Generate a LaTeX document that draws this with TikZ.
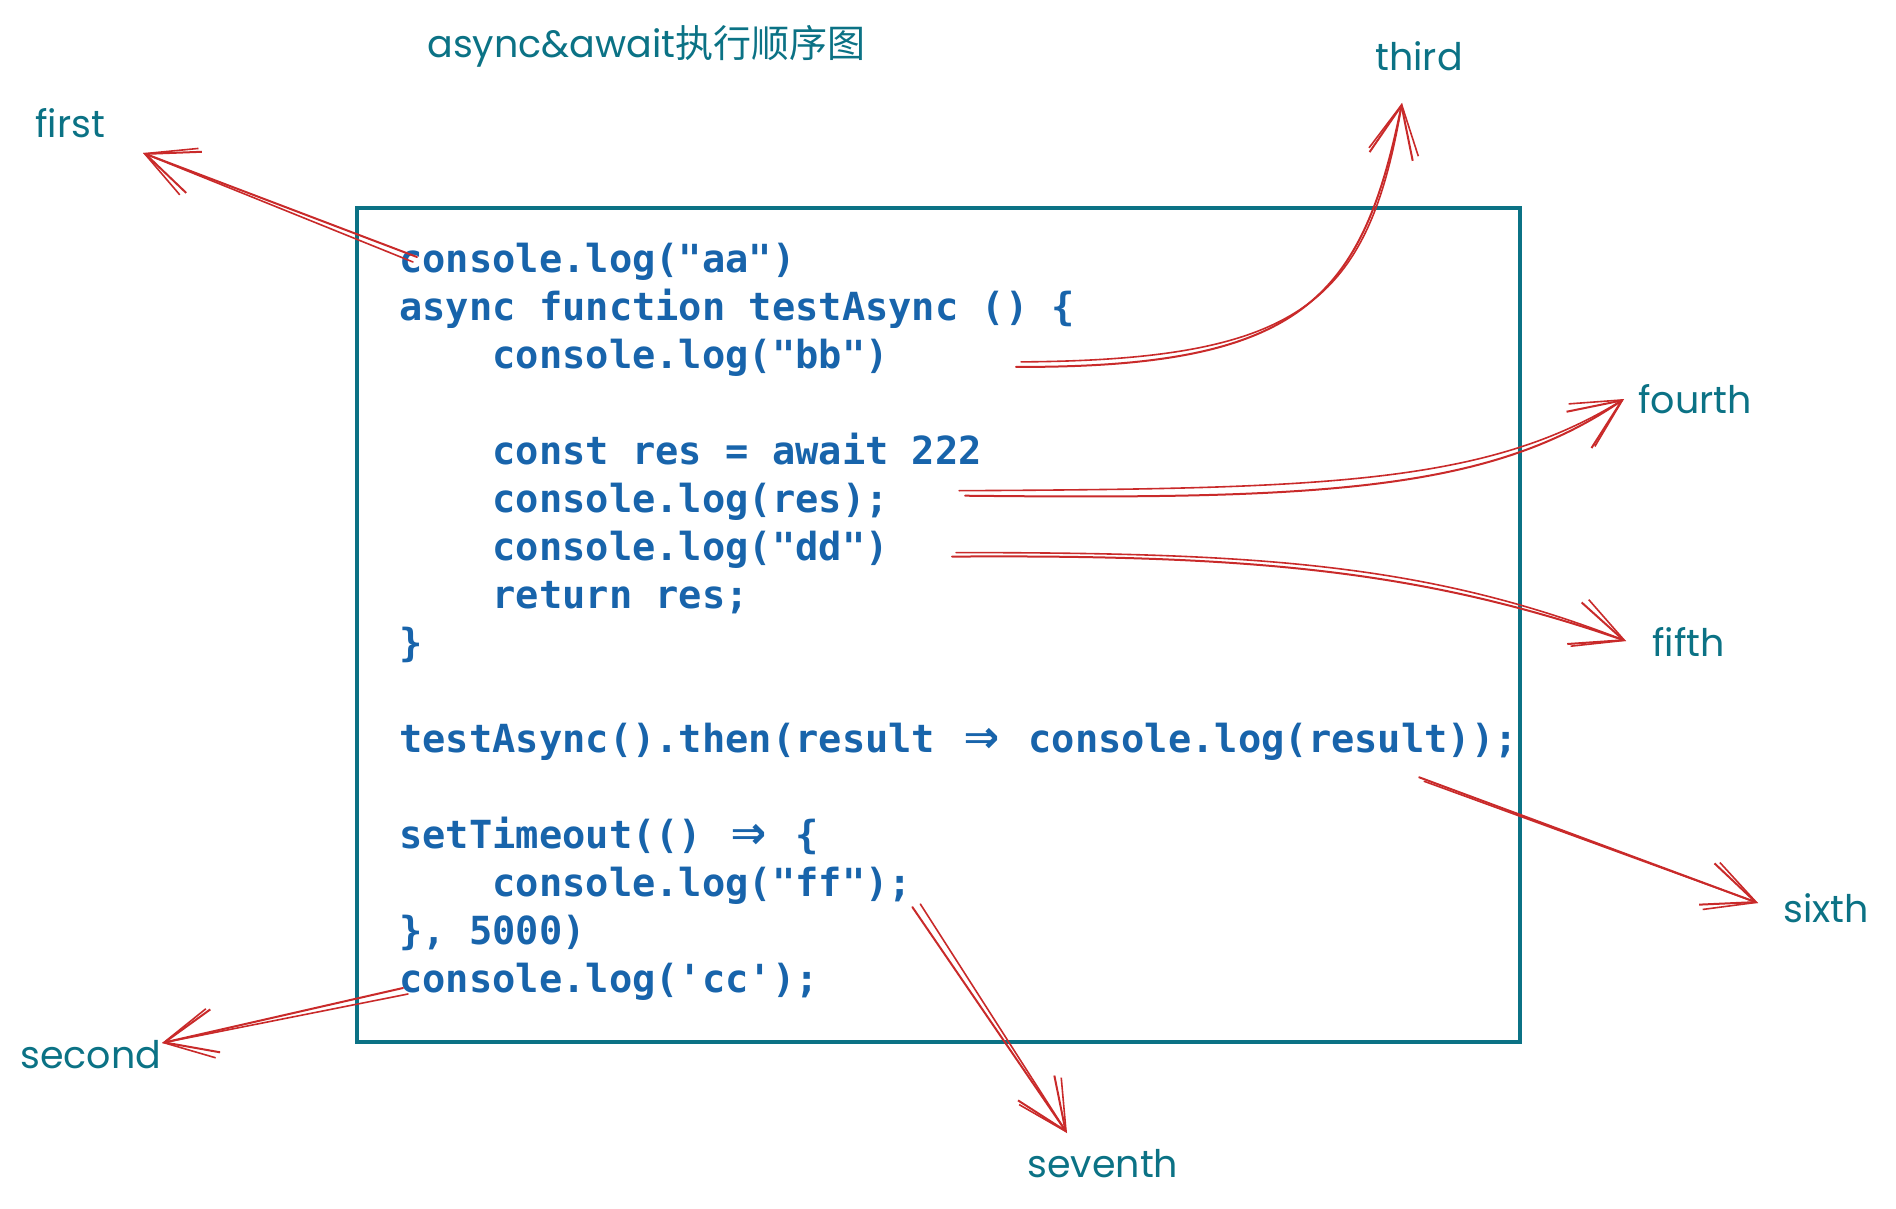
\documentclass[tikz,border=0pt]{standalone}
\usepackage{fontspec}
\usepackage{graphicx}
\setmonofont{DejaVu Sans Mono}
\newfontfamily\handfont{Poppins}
\newfontfamily\cjkfont{Noto Sans CJK SC}
\usetikzlibrary{arrows.meta,positioning}
\definecolor{code-blue}{HTML}{1864AB}
\definecolor{sk-teal}{HTML}{0B7285}
\definecolor{sk-red}{HTML}{C92A2A}
\newcommand\codefont{\ttfamily\bfseries\fontsize{19.35pt}{24pt}\selectfont}
\newcommand\handsize{\handfont\fontsize{19pt}{22pt}\selectfont}
\newcommand\ind{\phantom{0000}}
\newcommand\fatarrow{\hbox to 2\fontcharwd\font`0{\hss\raisebox{-0.1ex}{\scalebox{1.5}{⇒}}\hss}}

\begin{document}
\begin{tikzpicture}[x=0.5pt, y=-0.5pt,
  code/.style={anchor=base west, inner sep=0pt, text=code-blue, font=\codefont},
  tag/.style={anchor=base west, inner sep=0pt, text=sk-teal, font=\handsize},
  flow/.style={draw=sk-red, line width=1pt, line cap=round,
    -{Straight Barb[length=26pt,width=22pt,line width=1pt]}},
  flowb/.style={draw=sk-red, line width=0.8pt, line cap=round,
    -{Straight Barb[length=24pt,width=25pt,line width=0.8pt]}}]
\useasboundingbox (0,0) rectangle (1896,1209);

% frame round the code
\draw[sk-teal, line width=2.4pt] (357,208) rectangle (1520,1042);

\node[tag, font=\handfont\fontsize{19pt}{22pt}\selectfont] (title) at (427,58)
  {async\&await{\cjkfont 执行顺序图}};

% code lines
\node[code] (aa)      at (399,273.0) {console.log("aa")};
\node[code] (fn)      at (399,320.9) {async function testAsync () \{};
\node[code] (bb)      at (399,368.9) {\ind console.log("bb")};
\node[code] (await)   at (399,464.7) {\ind const res = await 222};
\node[code] (res)     at (399,512.7) {\ind console.log(res);};
\node[code] (dd)      at (399,560.6) {\ind console.log("dd")};
\node[code] (ret)     at (399,608.6) {\ind return res;};
\node[code] (close)   at (399,656.4) {\}};
\node[code] (then)    at (399,752.3) {testAsync().then(result \fatarrow{} console.log(result));};
\node[code] (timeout) at (399,848.2) {setTimeout(() \fatarrow{} \{};
\node[code] (ff)      at (399,896.1) {\ind console.log("ff");};
\node[code] (delay)   at (399,944.0) {\}, 5000)};
\node[code] (cc)      at (399,992.0) {console.log('cc');};

% order labels
\node[tag] (first)   at (35,138)    {first};
\node[tag] (second)  at (20,1068)   {second};
\node[tag] (third)   at (1375,71)   {third};
\node[tag] (fourth)  at (1638,413)  {fourth};
\node[tag] (fifth)   at (1652,656)  {fifth};
\node[tag] (sixth)   at (1783,922)  {sixth};
\node[tag] (seventh) at (1027,1177) {seventh};

\coordinate (to-first)   at (143,153);
\coordinate (to-second)  at (162,1043);
\coordinate (to-third)   at (1402,103);
\coordinate (to-fourth)  at (1624,399);
\coordinate (to-fifth)   at (1626,641);
\coordinate (to-sixth)   at (1758,903);
\coordinate (to-seventh) at (1067,1133);

% sketchy arrows, each stroke twice
\draw[flow]  ([shift={(18,-16)}]aa.base west) -- (to-first);
\draw[flowb] ([shift={(14,-11)}]aa.base west) -- (to-first);

\draw[flow]  ([shift={(4,-4)}]cc.base west) -- (to-second);
\draw[flowb] ([shift={(9,2)}]cc.base west) -- (to-second);

\draw[flow]  ([shift={(127,-2)}]bb.base east) .. controls +(285,1) and +(-40,197) .. (to-third);
\draw[flowb] ([shift={(132,-7)}]bb.base east) .. controls +(280,-2) and +(-34,200) .. (to-third);

\draw[flow]  ([shift={(76,-17)}]res.base east) .. controls +(356,4) and +(-134,92) .. (to-fourth);
\draw[flowb] ([shift={(70,-22)}]res.base east) .. controls +(362,-2) and +(-139,86) .. (to-fourth);

\draw[flow]  ([shift={(63,-4)}]dd.base east) .. controls +(299,-2) and +(-206,-71) .. (to-fifth);
\draw[flowb] ([shift={(67,-8)}]dd.base east) .. controls +(300,0) and +(-200,-78) .. (to-fifth);

\draw[flow]  ([shift={(-99,25)}]then.base east) -- (to-sixth);
\draw[flowb] ([shift={(-94,29)}]then.base east) -- (to-sixth);

\draw[flow]  ([shift={(0,11)}]ff.base east) -- (to-seventh);
\draw[flowb] ([shift={(8,8)}]ff.base east) -- (to-seventh);
\end{tikzpicture}
\end{document}
